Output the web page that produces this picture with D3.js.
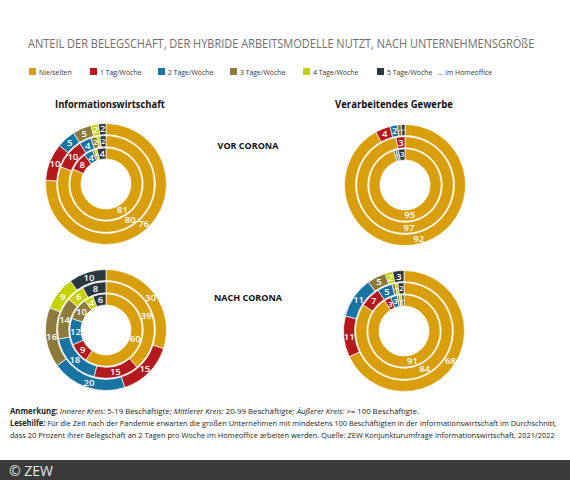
<!DOCTYPE html>
<html>
<head>
<meta charset="utf-8">
<script src="https://cdn.jsdelivr.net/npm/d3@7"></script>
<style>
  body { margin: 0; background: #fff; }
  svg { display: block; }
  text { font-family: "Open Sans", "DejaVu Sans", sans-serif; }
</style>
</head>
<body>
<svg id="chart" width="570" height="480"></svg>
<script>
// categories, clockwise from 12 o'clock
const categories = ['Nie/selten', '1 Tag/Woche', '2 Tage/Woche', '3 Tage/Woche', '4 Tage/Woche', '5 Tage/Woche'];
const colors = ['#d89e0c', '#b3191d', '#1a74a2', '#8d7a3c', '#c5d200', '#2c3742'];
const ringNames = ['5-19', '20-99', '100+']; // inner -> outer

// values in percent, per ring (inner, middle, outer)
const infoVor = [
  [81, 8, 4, 1, 1, 4],
  [80, 10, 4, 2, 1, 2],
  [76, 10, 5, 5, 2, 2],
];
const verVor = [
  [95, 0, 1, 1, 0, 3],
  [97, 3, 0, 0, 0, 0],
  [92, 4, 2, 1, 0, 1],
];
const infoNach = [
  [60, 9, 12, 10, 4, 6],
  [39, 15, 18, 14, 6, 8],
  [30, 15, 20, 16, 9, 10],
];
const verNach = [
  [91, 3, 3, 1, 1, 1],
  [84, 7, 5, 1, 1, 2],
  [68, 11, 11, 5, 2, 3],
];

const svg = d3.select('#chart');
const color = d3.scaleOrdinal().domain(categories).range(colors);

// squeeze a text horizontally so it fits the condensed look of the original
function fit(text, x, y, width) {
  const w = text.node().getComputedTextLength();
  text.attr('x', 0).attr('y', 0)
    .attr('transform', `translate(${x},${y}) scale(${width / w},1)`);
  return text;
}
function squeeze(text, x, y, k) {
  text.attr('x', 0).attr('y', 0)
    .attr('transform', `translate(${x},${y}) scale(${k},1)`);
  return text;
}

// title
fit(svg.append('text')
  .attr('font-size', 13)
  .attr('fill', '#6e6e6e')
  .text('ANTEIL DER BELEGSCHAFT, DER HYBRIDE ARBEITSMODELLE NUTZT, NACH UNTERNEHMENSGRÖßE'), 28, 48, 507);

// legend
const legendX = [29, 90, 158, 230, 303, 377];
const legend = svg.append('g').attr('transform', 'translate(0,72)');
categories.forEach((c, i) => {
  legend.append('rect').attr('x', legendX[i]).attr('y', -4).attr('width', 7).attr('height', 7).attr('fill', color(c));
  squeeze(legend.append('text').attr('font-size', 8).attr('fill', '#333').text(c), legendX[i] + 10, 2.5, 0.86);
});
squeeze(legend.append('text').attr('font-size', 8).attr('fill', '#333').text('... im Homeoffice'), 438, 2.5, 0.86);

// panel headers
fit(svg.append('text').attr('text-anchor', 'middle')
  .attr('font-size', 11).attr('font-weight', 700).attr('fill', '#111').text('Informationswirtschaft'), 110, 108, 110);
fit(svg.append('text').attr('text-anchor', 'middle')
  .attr('font-size', 11).attr('font-weight', 700).attr('fill', '#111').text('Verarbeitendes Gewerbe'), 394, 108, 118);
svg.append('text').attr('x', 248).attr('y', 149).attr('text-anchor', 'middle')
  .attr('font-size', 9).attr('font-weight', 700).attr('fill', '#111').text('VOR CORONA');
svg.append('text').attr('x', 248).attr('y', 301).attr('text-anchor', 'middle')
  .attr('font-size', 9).attr('font-weight', 700).attr('fill', '#111').text('NACH CORONA');

const charts = [
  { data: infoVor, cx: 106, cy: 184 },
  { data: verVor, cx: 405, cy: 185 },
  { data: infoNach, cx: 106, cy: 330 },
  { data: verNach, cx: 404, cy: 331 },
];

const ringScale = d3.scaleBand().domain(ringNames).range([25, 60.5]).paddingInner(0.09);
const pie = d3.pie().sort(null).value(d => d.value);

charts.forEach(ch => {
  const g = svg.append('g').attr('transform', `translate(${ch.cx},${ch.cy})`);
  ch.data.forEach((vals, ri) => {
    const r0 = ringScale(ringNames[ri]);
    const r1 = r0 + ringScale.bandwidth();
    const arc = d3.arc().innerRadius(r0).outerRadius(r1);
    const arcs = pie(vals.map((v, i) => ({ cat: categories[i], value: v })));

    g.selectAll(null)
      .data(arcs.filter(d => d.data.value > 0))
      .enter()
      .append('path')
      .attr('d', arc)
      .attr('fill', d => color(d.data.cat))
      .attr('stroke', '#fff')
      .attr('stroke-width', 0.7);

    const rMid = (r0 + r1) / 2;
    g.selectAll(null)
      .data(arcs.filter(d => d.data.value > 0))
      .enter()
      .append('text')
      .attr('fill', '#fff')
      .attr('font-weight', 600)
      .attr('text-anchor', 'middle')
      .attr('dy', '0.35em')
      .each(function (d) {
        const mid = (d.startAngle + d.endAngle) / 2;
        const len = (d.endAngle - d.startAngle) * rMid;
        const x = Math.sin(mid) * rMid;
        const y = -Math.cos(mid) * rMid;
        const t = d3.select(this).text(d.data.value);
        if (len >= 5) {
          t.attr('x', x).attr('y', y).attr('font-size', Math.min(9.5, Math.max(6, len * 1.35)));
        } else {
          const rot = mid * 180 / Math.PI - 90;
          t.attr('transform', `translate(${x},${y}) rotate(${rot})`)
            .attr('font-size', Math.max(4, len * 1.2));
        }
      });
  });
});

// note
const note = svg.append('g').attr('font-size', 8).attr('fill', '#222');
const n1 = note.append('text');
n1.append('tspan').attr('font-weight', 700).text('Anmerkung: ');
n1.append('tspan').attr('font-style', 'italic').text('Innerer Kreis: ');
n1.append('tspan').text('5-19 Beschäftigte; ');
n1.append('tspan').attr('font-style', 'italic').text('Mittlerer Kreis: ');
n1.append('tspan').text('20-99 Beschäftigte; ');
n1.append('tspan').attr('font-style', 'italic').text('Äußerer Kreis: ');
n1.append('tspan').text('>= 100 Beschäftigte.');
fit(n1, 10, 414, 410);
const n2 = note.append('text');
n2.append('tspan').attr('font-weight', 700).text('Lesehilfe: ');
n2.append('tspan').text('Für die Zeit nach der Pandemie erwarten die großen Unternehmen mit mindestens 100 Beschäftigten in der Informationswirtschaft im Durchschnitt,');
fit(n2, 10, 426, 548);
fit(note.append('text')
  .text('dass 20 Prozent ihrer Belegschaft an 2 Tagen pro Woche im Homeoffice arbeiten werden. Quelle: ZEW Konjunkturumfrage Informationswirtschaft, 2021/2022'), 10, 438, 546);

// footer band
svg.append('rect').attr('x', 0).attr('y', 460).attr('width', 570).attr('height', 20).attr('fill', '#3b3b3b');
svg.append('text').attr('x', 9).attr('y', 476).attr('font-size', 14).attr('fill', '#e8e8e8')
  .attr('font-family', 'Roboto, sans-serif').text('© ZEW');
</script>
</body>
</html>
